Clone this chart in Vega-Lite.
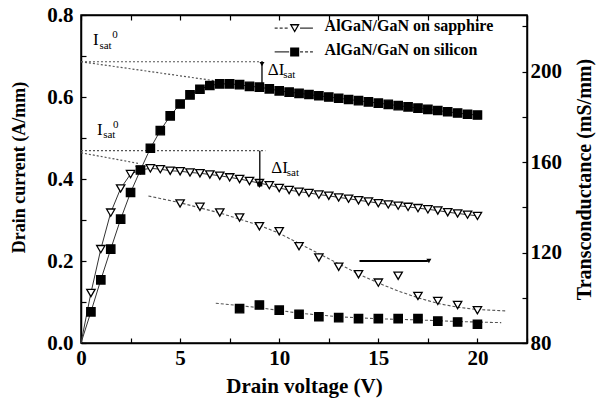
{
  "$schema": "https://vega.github.io/schema/vega-lite/v6.json",
  "width": 446,
  "height": 328,
  "autosize": {"type": "none"},
  "padding": {"left": 81, "top": 15, "right": 69, "bottom": 57},
  "background": "white",
  "config": {
    "view": {"stroke": "black", "strokeWidth": 1.5},
    "axis": {
      "domainColor": "black", "tickColor": "black", "labelColor": "black", "titleColor": "black",
      "labelFont": "'Liberation Serif', 'Times New Roman', serif", "titleFont": "'Liberation Serif', 'Times New Roman', serif",
      "labelFontWeight": "bold", "titleFontWeight": "bold",
      "labelFontSize": 21, "titleFontSize": 20, "grid": false, "labelFlush": false,
      "domainWidth": 1.5, "tickWidth": 1.2
    },
    "text": {"font": "'Liberation Serif', 'Times New Roman', serif", "color": "black"}
  },
  "datasets": {
    "cur": [
      {"s": "sapphire", "v": 0, "i": 0}, {"s": "silicon", "v": 0, "i": 0},
      {"s": "sapphire", "v": 0.5, "i": 0.122}, {"s": "sapphire", "v": 1.0, "i": 0.229}, {"s": "sapphire", "v": 1.5, "i": 0.318}, {"s": "sapphire", "v": 2.0, "i": 0.377},
      {"s": "sapphire", "v": 2.5, "i": 0.412}, {"s": "sapphire", "v": 3.0, "i": 0.422}, {"s": "sapphire", "v": 3.5, "i": 0.426}, {"s": "sapphire", "v": 4.0, "i": 0.424},
      {"s": "sapphire", "v": 4.5, "i": 0.420}, {"s": "sapphire", "v": 5.0, "i": 0.419}, {"s": "sapphire", "v": 5.5, "i": 0.416}, {"s": "sapphire", "v": 6.0, "i": 0.414},
      {"s": "sapphire", "v": 6.5, "i": 0.411}, {"s": "sapphire", "v": 7.0, "i": 0.408}, {"s": "sapphire", "v": 7.5, "i": 0.404}, {"s": "sapphire", "v": 8.0, "i": 0.400},
      {"s": "sapphire", "v": 8.5, "i": 0.395}, {"s": "sapphire", "v": 9.0, "i": 0.390}, {"s": "sapphire", "v": 9.5, "i": 0.385}, {"s": "sapphire", "v": 10.0, "i": 0.378},
      {"s": "sapphire", "v": 10.5, "i": 0.373}, {"s": "sapphire", "v": 11.0, "i": 0.369}, {"s": "sapphire", "v": 11.5, "i": 0.366}, {"s": "sapphire", "v": 12.0, "i": 0.362},
      {"s": "sapphire", "v": 12.5, "i": 0.359}, {"s": "sapphire", "v": 13.0, "i": 0.355}, {"s": "sapphire", "v": 13.5, "i": 0.352}, {"s": "sapphire", "v": 14.0, "i": 0.348},
      {"s": "sapphire", "v": 14.5, "i": 0.345}, {"s": "sapphire", "v": 15.0, "i": 0.341}, {"s": "sapphire", "v": 15.5, "i": 0.338}, {"s": "sapphire", "v": 16.0, "i": 0.335},
      {"s": "sapphire", "v": 16.5, "i": 0.332}, {"s": "sapphire", "v": 17.0, "i": 0.329}, {"s": "sapphire", "v": 17.5, "i": 0.326}, {"s": "sapphire", "v": 18.0, "i": 0.323},
      {"s": "sapphire", "v": 18.5, "i": 0.319}, {"s": "sapphire", "v": 19.0, "i": 0.316}, {"s": "sapphire", "v": 19.5, "i": 0.313}, {"s": "sapphire", "v": 20.0, "i": 0.310},
      {"s": "silicon", "v": 0.5, "i": 0.076}, {"s": "silicon", "v": 1.0, "i": 0.154}, {"s": "silicon", "v": 1.5, "i": 0.229}, {"s": "silicon", "v": 2.0, "i": 0.302},
      {"s": "silicon", "v": 2.5, "i": 0.367}, {"s": "silicon", "v": 3.0, "i": 0.422}, {"s": "silicon", "v": 3.5, "i": 0.475}, {"s": "silicon", "v": 4.0, "i": 0.518},
      {"s": "silicon", "v": 4.5, "i": 0.554}, {"s": "silicon", "v": 5.0, "i": 0.583}, {"s": "silicon", "v": 5.5, "i": 0.605}, {"s": "silicon", "v": 6.0, "i": 0.619},
      {"s": "silicon", "v": 6.5, "i": 0.628}, {"s": "silicon", "v": 7.0, "i": 0.632}, {"s": "silicon", "v": 7.5, "i": 0.632}, {"s": "silicon", "v": 8.0, "i": 0.630},
      {"s": "silicon", "v": 8.5, "i": 0.626}, {"s": "silicon", "v": 9.0, "i": 0.624}, {"s": "silicon", "v": 9.5, "i": 0.620}, {"s": "silicon", "v": 10.0, "i": 0.615},
      {"s": "silicon", "v": 10.5, "i": 0.612}, {"s": "silicon", "v": 11.0, "i": 0.609}, {"s": "silicon", "v": 11.5, "i": 0.606}, {"s": "silicon", "v": 12.0, "i": 0.603},
      {"s": "silicon", "v": 12.5, "i": 0.600}, {"s": "silicon", "v": 13.0, "i": 0.597}, {"s": "silicon", "v": 13.5, "i": 0.594}, {"s": "silicon", "v": 14.0, "i": 0.591},
      {"s": "silicon", "v": 14.5, "i": 0.588}, {"s": "silicon", "v": 15.0, "i": 0.585}, {"s": "silicon", "v": 15.5, "i": 0.582}, {"s": "silicon", "v": 16.0, "i": 0.579},
      {"s": "silicon", "v": 16.5, "i": 0.576}, {"s": "silicon", "v": 17.0, "i": 0.573}, {"s": "silicon", "v": 17.5, "i": 0.570}, {"s": "silicon", "v": 18.0, "i": 0.567},
      {"s": "silicon", "v": 18.5, "i": 0.564}, {"s": "silicon", "v": 19.0, "i": 0.561}, {"s": "silicon", "v": 19.5, "i": 0.558}, {"s": "silicon", "v": 20.0, "i": 0.556}
    ],
    "extrap": [
      {"seg": "a", "v": 0, "i": 0.686}, {"seg": "a", "v": 9.2, "i": 0.686},
      {"seg": "b", "v": 0, "i": 0.686}, {"seg": "b", "v": 6.7, "i": 0.640},
      {"seg": "c", "v": 0, "i": 0.469}, {"seg": "c", "v": 9.3, "i": 0.469},
      {"seg": "d", "v": 0, "i": 0.464}, {"seg": "d", "v": 2.9, "i": 0.438}
    ],
    "varrows": [
      {"v": 9.13, "i": 0.686, "i2": 0.629},
      {"v": 9.02, "i": 0.469, "i2": 0.382}
    ],
    "harrows": [
      {"v": 14.05, "v2": 17.5, "i": 0.2}
    ],
    "heads": [
      {"v": 9.13, "i": 0.680, "dir": "up"},
      {"v": 9.02, "i": 0.388, "dir": "down"},
      {"v": 17.55, "i": 0.2, "dir": "right"}
    ],
    "notes": [
      {"v": 0.6, "i": 0.727, "t": "I", "kind": "main"},
      {"v": 0.93, "i": 0.718, "t": "sat", "kind": "sub"},
      {"v": 1.58, "i": 0.744, "t": "0", "kind": "sup"},
      {"v": 0.81, "i": 0.507, "t": "I", "kind": "main"},
      {"v": 1.12, "i": 0.500, "t": "sat", "kind": "sub"},
      {"v": 1.62, "i": 0.524, "t": "0", "kind": "sup"},
      {"v": 9.42, "i": 0.654, "t": "ΔI", "kind": "main"},
      {"v": 10.2, "i": 0.647, "t": "sat", "kind": "sub"},
      {"v": 9.6, "i": 0.415, "t": "ΔI", "kind": "main"},
      {"v": 10.38, "i": 0.408, "t": "sat", "kind": "sub"},
      {"v": 12.29, "i": 0.760, "t": "AlGaN/GaN on sapphire", "kind": "legend"},
      {"v": 12.29, "i": 0.702, "t": "AlGaN/GaN on silicon", "kind": "legend"}
    ],
    "legsegs": [
      {"v": 9.77, "v2": 10.5, "i": 0.768, "dash": "dashed"},
      {"v": 11.05, "v2": 11.7, "i": 0.768, "dash": "solid"},
      {"v": 9.77, "v2": 10.5, "i": 0.710, "dash": "solid"},
      {"v": 11.05, "v2": 11.7, "i": 0.710, "dash": "dashed"}
    ],
    "legpts": [
      {"s": "sapphire", "v": 10.78, "i": 0.768},
      {"s": "silicon", "v": 10.78, "i": 0.710}
    ],
    "gm": [
      {"s": "sapphire", "v": 5, "g": 141.7}, {"s": "sapphire", "v": 6, "g": 140.2}, {"s": "sapphire", "v": 7, "g": 137.7}, {"s": "sapphire", "v": 8, "g": 135.5},
      {"s": "sapphire", "v": 9, "g": 131.6}, {"s": "sapphire", "v": 10, "g": 129.4}, {"s": "sapphire", "v": 11, "g": 122.8}, {"s": "sapphire", "v": 12, "g": 117.8},
      {"s": "sapphire", "v": 13, "g": 113.7}, {"s": "sapphire", "v": 14, "g": 110.4}, {"s": "sapphire", "v": 15, "g": 106.7}, {"s": "sapphire", "v": 16, "g": 109.7},
      {"s": "sapphire", "v": 17, "g": 100.8}, {"s": "sapphire", "v": 18, "g": 98.6}, {"s": "sapphire", "v": 19, "g": 96.8}, {"s": "sapphire", "v": 20, "g": 94.5},
      {"s": "silicon", "v": 8, "g": 95.2}, {"s": "silicon", "v": 9, "g": 96.8}, {"s": "silicon", "v": 10, "g": 94.5}, {"s": "silicon", "v": 11, "g": 92.7},
      {"s": "silicon", "v": 12, "g": 91.6}, {"s": "silicon", "v": 13, "g": 91.2}, {"s": "silicon", "v": 14, "g": 90.8}, {"s": "silicon", "v": 15, "g": 90.8},
      {"s": "silicon", "v": 16, "g": 90.8}, {"s": "silicon", "v": 17, "g": 90.8}, {"s": "silicon", "v": 18, "g": 89.7}, {"s": "silicon", "v": 19, "g": 89.3},
      {"s": "silicon", "v": 20, "g": 88.3}
    ],
    "gmfit": [
      {"s": "sapphire", "v": 3.4, "g": 145.0}, {"s": "sapphire", "v": 5, "g": 142.0}, {"s": "sapphire", "v": 7, "g": 137.5}, {"s": "sapphire", "v": 9, "g": 132.0},
      {"s": "sapphire", "v": 10, "g": 128.5}, {"s": "sapphire", "v": 11, "g": 124.0}, {"s": "sapphire", "v": 12, "g": 119.5}, {"s": "sapphire", "v": 13, "g": 115.0},
      {"s": "sapphire", "v": 14, "g": 110.5}, {"s": "sapphire", "v": 15, "g": 106.5}, {"s": "sapphire", "v": 16, "g": 103.0}, {"s": "sapphire", "v": 17, "g": 100.0},
      {"s": "sapphire", "v": 18, "g": 97.5}, {"s": "sapphire", "v": 19, "g": 95.8}, {"s": "sapphire", "v": 20, "g": 94.8}, {"s": "sapphire", "v": 21.4, "g": 94.2},
      {"s": "silicon", "v": 6.8, "g": 97.6}, {"s": "silicon", "v": 9, "g": 95.6}, {"s": "silicon", "v": 11, "g": 93.2}, {"s": "silicon", "v": 13, "g": 91.6},
      {"s": "silicon", "v": 15, "g": 90.7}, {"s": "silicon", "v": 17, "g": 90.2}, {"s": "silicon", "v": 19, "g": 89.5}, {"s": "silicon", "v": 21.2, "g": 89.0}
    ]
  },
  "layer": [
    {
      "encoding": {
        "x": {
          "field": "v", "type": "quantitative",
          "scale": {"domain": [0, 22.5], "nice": false, "zero": false},
          "axis": {
            "orient": "bottom", "values": [0, 2.5, 5, 7.5, 10, 12.5, 15, 17.5, 20, 22.5],
            "labelExpr": "datum.value % 5 == 0 ? datum.label : ''",
            "tickSize": -5, "labelPadding": 9, "title": "Drain voltage (V)", "titlePadding": 7, "titleFontSize": 21
          }
        },
        "y": {
          "field": "i", "type": "quantitative",
          "scale": {"domain": [0, 0.8], "nice": false},
          "axis": {
            "orient": "left", "values": [0, 0.1, 0.2, 0.3, 0.4, 0.5, 0.6, 0.7, 0.8],
            "labelExpr": "round(datum.value*10) % 2 == 0 ? format(datum.value, '.1f') : ''",
            "tickSize": -5, "labelPadding": 13, "title": "Drain current (A/mm)", "titlePadding": 18,
            "titleFontSize": 18, "titleY": 152
          }
        }
      },
      "layer": [
        {
          "data": {"name": "extrap"},
          "mark": {"type": "line", "color": "#555555", "strokeWidth": 1.2, "strokeDash": [2, 2]},
          "encoding": {"detail": {"field": "seg"}}
        },
        {
          "data": {"name": "cur"},
          "mark": {"type": "line", "color": "#333333", "strokeWidth": 1},
          "encoding": {"detail": {"field": "s"}}
        },
        {
          "data": {"name": "cur"},
          "transform": [{"filter": "datum.v > 0"}],
          "mark": {"type": "point", "stroke": "black", "strokeWidth": 1.3, "opacity": 1, "size": 70},
          "encoding": {
            "shape": {"field": "s", "scale": {"domain": ["sapphire", "silicon"], "range": ["triangle-down", "square"]}, "legend": null},
            "fill": {"field": "s", "scale": {"domain": ["sapphire", "silicon"], "range": ["white", "black"]}, "legend": null}
          }
        },
        {
          "data": {"name": "varrows"},
          "mark": {"type": "rule", "color": "black", "strokeWidth": 1.3},
          "encoding": {"y2": {"field": "i2"}}
        },
        {
          "data": {"name": "harrows"},
          "mark": {"type": "rule", "color": "black", "strokeWidth": 2.2},
          "encoding": {"x2": {"field": "v2"}}
        },
        {
          "data": {"name": "heads"},
          "mark": {"type": "point", "filled": true, "color": "black", "size": 25, "opacity": 1},
          "encoding": {
            "shape": {"field": "dir", "scale": {"domain": ["up", "down", "right"], "range": ["triangle-up", "triangle-down", "triangle-right"]}, "legend": null}
          }
        },
        {
          "data": {"name": "legsegs"},
          "mark": {"type": "rule", "color": "#333333", "strokeWidth": 1.2},
          "encoding": {
            "x2": {"field": "v2"},
            "strokeDash": {"field": "dash", "scale": {"domain": ["dashed", "solid"], "range": [[3, 2], [1, 0]]}, "legend": null}
          }
        },
        {
          "data": {"name": "legpts"},
          "mark": {"type": "point", "stroke": "black", "strokeWidth": 1.3, "opacity": 1, "size": 60},
          "encoding": {
            "shape": {"field": "s", "scale": {"domain": ["sapphire", "silicon"], "range": ["triangle-down", "square"]}, "legend": null},
            "fill": {"field": "s", "scale": {"domain": ["sapphire", "silicon"], "range": ["white", "black"]}, "legend": null}
          }
        },
        {
          "data": {"name": "notes"},
          "transform": [{"filter": "datum.kind == 'main'"}],
          "mark": {"type": "text", "align": "left", "baseline": "alphabetic", "fontSize": 17},
          "encoding": {"text": {"field": "t"}}
        },
        {
          "data": {"name": "notes"},
          "transform": [{"filter": "datum.kind == 'sub' || datum.kind == 'sup'"}],
          "mark": {"type": "text", "align": "left", "baseline": "alphabetic", "fontSize": 11},
          "encoding": {"text": {"field": "t"}}
        },
        {
          "data": {"name": "notes"},
          "transform": [{"filter": "datum.kind == 'legend'"}],
          "mark": {"type": "text", "align": "left", "baseline": "alphabetic", "fontSize": 16, "fontWeight": "bold"},
          "encoding": {"text": {"field": "t"}}
        }
      ]
    },
    {
      "encoding": {
        "x": {
          "field": "v", "type": "quantitative",
          "scale": {"domain": [0, 22.5], "nice": false, "zero": false},
          "axis": {
            "orient": "top", "values": [0, 2.5, 5, 7.5, 10, 12.5, 15, 17.5, 20, 22.5],
            "labels": false, "tickSize": -5, "title": null
          }
        },
        "y": {
          "field": "g", "type": "quantitative",
          "scale": {"domain": [80, 225], "nice": false, "zero": false},
          "axis": {
            "orient": "right", "values": [80, 100, 120, 140, 160, 180, 200, 220],
            "labelExpr": "datum.value % 40 == 0 ? datum.label : ''",
            "tickSize": -5, "labelPadding": 8, "title": "Transconductance  (mS/mm)",
            "titleAngle": 270, "titlePadding": 33
          }
        }
      },
      "layer": [
        {
          "data": {"name": "gmfit"},
          "mark": {"type": "line", "color": "#555555", "strokeWidth": 1.1, "strokeDash": [3, 2]},
          "encoding": {"detail": {"field": "s"}}
        },
        {
          "data": {"name": "gm"},
          "mark": {"type": "point", "stroke": "black", "strokeWidth": 1.3, "opacity": 1, "size": 70},
          "encoding": {
            "shape": {"field": "s", "scale": {"domain": ["sapphire", "silicon"], "range": ["triangle-down", "square"]}, "legend": null},
            "fill": {"field": "s", "scale": {"domain": ["sapphire", "silicon"], "range": ["white", "black"]}, "legend": null}
          }
        }
      ]
    }
  ],
  "resolve": {"scale": {"y": "independent"}, "axis": {"x": "independent", "y": "independent"}}
}
